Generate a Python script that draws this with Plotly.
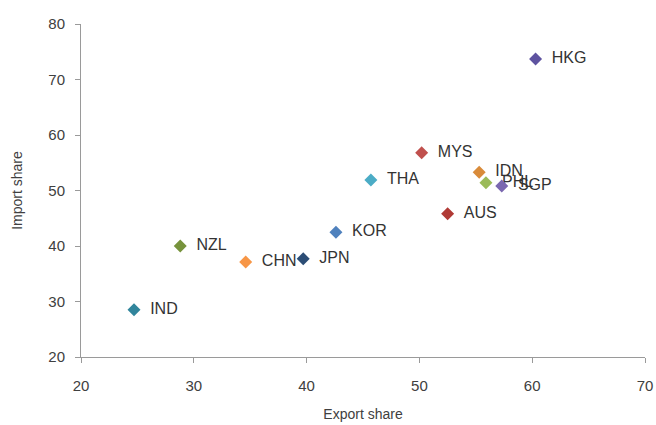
import plotly.graph_objects as go

countries = ["HKG", "MYS", "IDN", "PHL", "SGP", "AUS", "THA", "KOR", "JPN", "CHN", "NZL", "IND"]
export_share = [60.3, 50.2, 55.3, 55.9, 57.3, 52.5, 45.7, 42.6, 39.7, 34.6, 28.8, 24.7]
import_share = [73.7, 56.8, 53.3, 51.4, 50.8, 45.8, 51.9, 42.5, 37.7, 37.1, 40.0, 28.5]
colors = ["#5E53A0", "#C0504D", "#D98B3A", "#9BBB59", "#7B68B0", "#B03A35",
          "#4BACC6", "#4F81BD", "#2C4D75", "#F79646", "#77933C", "#31859C"]

FONT = "Liberation Sans, Arial, sans-serif"
fig = go.Figure()
for c, x, y, col in zip(countries, export_share, import_share, colors):
    fig.add_trace(go.Scatter(
        x=[x], y=[y], mode="markers+text", text=["\u00a0\u00a0" + c],
        textposition="middle right",
        textfont=dict(family=FONT, size=16, color="#333333"),
        marker=dict(symbol="diamond", size=10, color=col),
        showlegend=False, cliponaxis=False, hoverinfo="skip",
    ))

axis_common = dict(
    showgrid=False, zeroline=False, showline=True, linecolor="#9a9a9a", linewidth=1,
    ticks="outside", ticklen=5, tickcolor="#9a9a9a", automargin=False,
    tickfont=dict(family=FONT, size=15, color="#404040"),
)
fig.update_layout(
    width=656, height=425,
    margin=dict(l=81, r=11, t=24, b=68),
    paper_bgcolor="white", plot_bgcolor="white",
    xaxis=dict(range=[20, 70], dtick=10, ticklabelstandoff=10,
               title=dict(text="Export share", standoff=16,
                          font=dict(family=FONT, size=14, color="#404040")),
               **axis_common),
    yaxis=dict(range=[20, 80], dtick=10, ticklabelstandoff=7,
               title=dict(text="Import share", standoff=22,
                          font=dict(family=FONT, size=14, color="#404040")),
               **axis_common),
)
fig.write_html("out.html", config={"displayModeBar": False},
               post_script="document.body.style.margin='0';document.body.style.overflow='hidden';")
